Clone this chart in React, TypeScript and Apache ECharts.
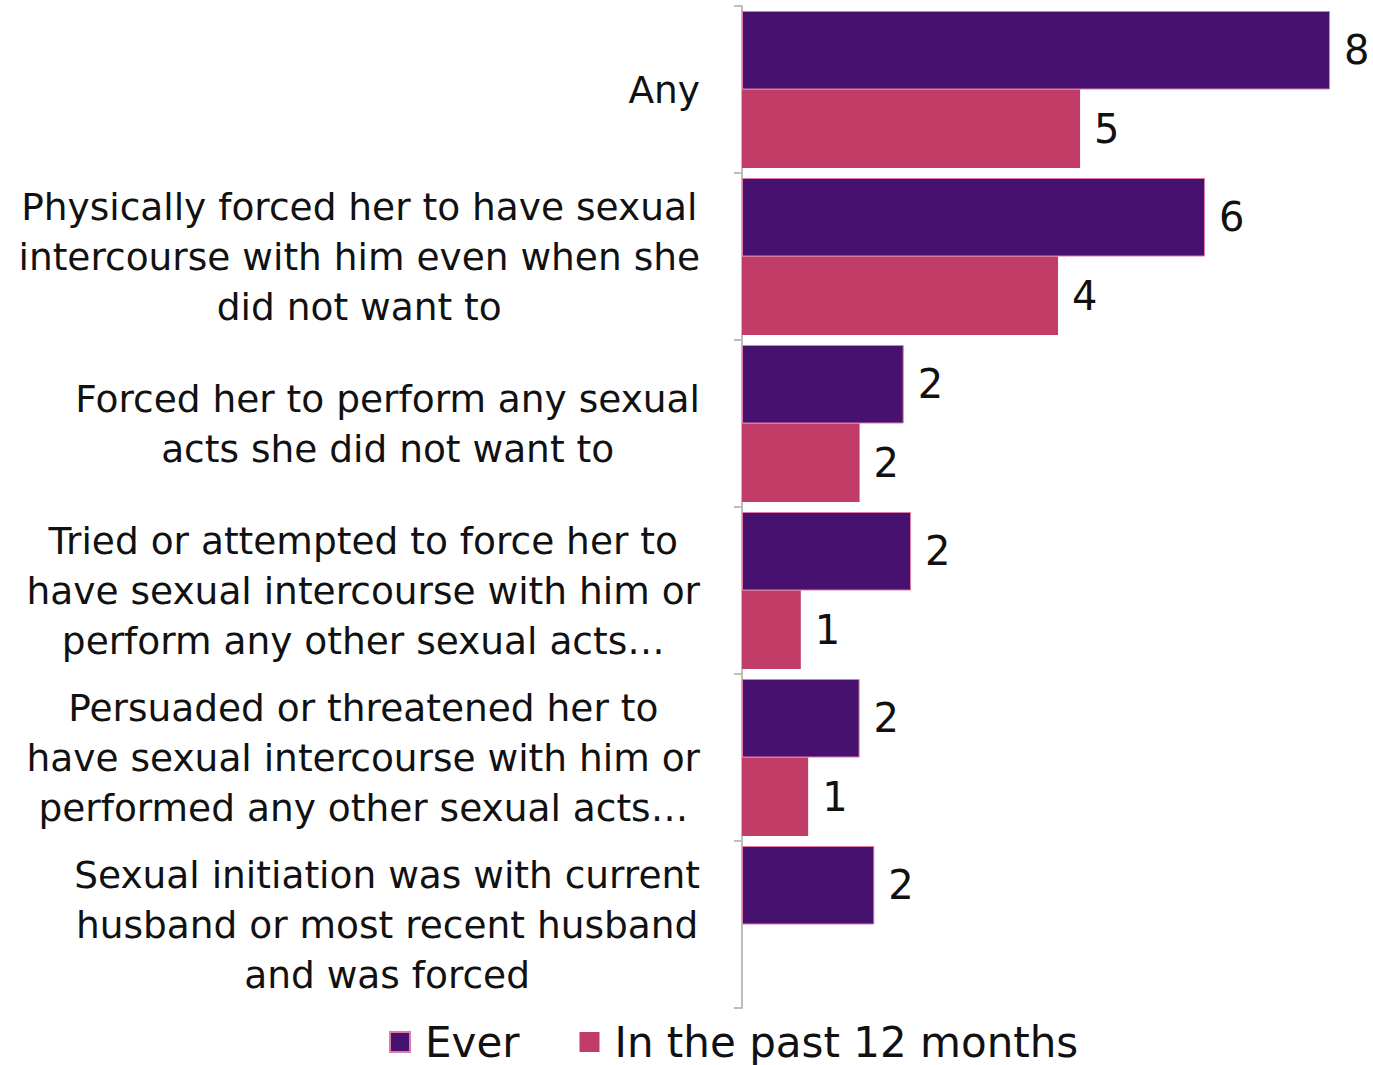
import React, { useEffect, useRef } from "react";
import * as echarts from "echarts";

const categories = [
  "Any",
  "Physically forced her to have sexual\nintercourse with him even when she\ndid not want to",
  "Forced her to perform any sexual\nacts she did not want to",
  "Tried or attempted to force her to\nhave sexual intercourse with him or\nperform any other sexual acts…",
  "Persuaded or threatened her to\nhave sexual intercourse with him or\nperformed any other sexual acts…",
  "Sexual initiation was with current\nhusband or most recent husband\nand was forced",
];
const everValues = [8.0, 6.3, 2.2, 2.3, 1.6, 1.8];
const pastValues: (number | null)[] = [4.6, 4.3, 1.6, 0.8, 0.9, null];
const seriesNames = ["Ever", "In the past 12 months"];

const FONT = "DejaVu Sans";

export default function App() {
  const ref = useRef<HTMLDivElement>(null);
  useEffect(() => {
    document.body.style.margin = "0";
    if (!ref.current) return;
    const chart = echarts.init(ref.current, undefined, { renderer: "svg" });
    const labelCfg = {
      show: true,
      position: "right",
      distance: 14,
      fontFamily: FONT,
      fontSize: 40,
      color: "#111",
      formatter: (p: any) => (p.value == null ? "" : String(Math.round(p.value))),
    };
    chart.setOption({
      animation: false,
      backgroundColor: "#fff",
      textStyle: { fontFamily: FONT },
      grid: { left: 742, right: 43, top: 6, bottom: 57, containLabel: false },
      legend: {
        top: 1016,
        left: 384,
        icon: "rect",
        itemWidth: 20,
        itemHeight: 20,
        itemGap: 60,
        textStyle: { fontFamily: FONT, fontSize: 42, color: "#111", padding: [0, 0, 0, 10] },
        data: seriesNames,
      },
      xAxis: {
        type: "value",
        min: 0,
        max: 8,
        show: false,
      },
      yAxis: {
        type: "category",
        inverse: true,
        data: categories,
        axisLine: { show: true, lineStyle: { color: "#bdbdbd", width: 2 } },
        axisTick: { show: true, length: 8, lineStyle: { color: "#bdbdbd", width: 2 } },
        axisLabel: {
          margin: 42,
          formatter: (v: string) => "{a|" + v + "}",
          rich: {
            a: {
              fontFamily: FONT,
              fontSize: 37.5,
              lineHeight: 50,
              color: "#111",
              align: "center",
            },
          },
        },
      },
      series: [
        {
          name: seriesNames[0],
          type: "bar",
          data: everValues,
          barGap: "0%",
          barCategoryGap: "6%",
          itemStyle: { color: "#47116f", borderColor: "#e07aa8", borderWidth: 1 },
          label: labelCfg,
        },
        {
          name: seriesNames[1],
          type: "bar",
          data: pastValues,
          itemStyle: { color: "#c13d67" },
          label: labelCfg,
        },
      ],
    });
    return () => chart.dispose();
  }, []);
  return <div ref={ref} style={{ width: 1373, height: 1065 }} />;
}
